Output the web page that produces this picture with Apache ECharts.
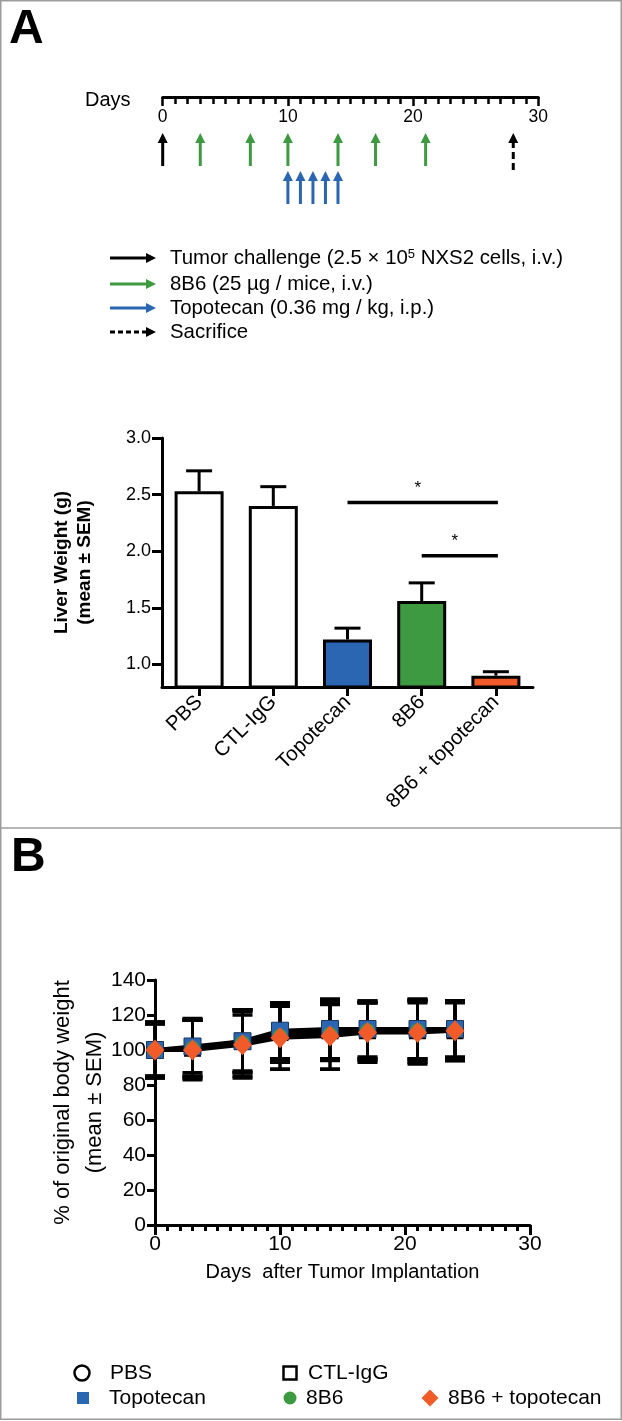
<!DOCTYPE html>
<html><head><meta charset="utf-8">
<script src="https://cdn.jsdelivr.net/npm/echarts@6/dist/echarts.min.js"></script>
<style>html,body{margin:0;padding:0;background:#fff}#c{width:622px;height:1421px}</style>
</head><body><div id="c"></div>
<script>
// ---------- Panel A: treatment timeline ----------
const tumorDays = [0];
const antibodyDays = [3, 7, 10, 14, 17, 21];
const topotecanDays = [10, 11, 12, 13, 14];
const sacrificeDays = [28];
const timelineLegend = ['Tumor challenge (2.5 \u00d7 10{sup|5} NXS2 cells, i.v.)', '8B6 (25 \u00b5g / mice, i.v.)', 'Topotecan (0.36 mg / kg, i.p.)', 'Sacrifice'];

// ---------- Panel A: liver weight ----------
const groups = ['PBS', 'CTL-IgG', 'Topotecan', '8B6', '8B6 + topotecan'];
const liverMean = [2.53, 2.40, 1.22, 1.56, 0.90];
const liverSem = [0.18, 0.17, 0.10, 0.16, 0.035];
const liverTicks = [1.0, 1.5, 2.0, 2.5, 3.0];
const sigFrom = ['Topotecan', '8B6'];
const sigTo = ['8B6 + topotecan', '8B6 + topotecan'];
const sigLevel = [2.43, 1.96];
const sigMark = ['*', '*'];

// ---------- Panel B: body weight ----------
const weightDays = [0, 3, 7, 10, 14, 17, 21, 24];
const pbsMean = [100, 101, 104, 109, 110, 111, 111, 111];
const pbsSem = [16, 17, 16, 16, 16, 16, 17, 17];
const ctlMean = [100, 101, 105, 110, 111, 111, 111, 111];
const ctlSem = [15, 16, 18, 16, 16, 16, 16, 16];
const topoMean = [100, 102, 105, 111, 112, 112, 112, 112];
const topoSem = [15, 15, 18, 16, 17, 16, 17, 16];
const ab8b6Mean = [100, 101, 104, 108, 109, 111, 111, 111];
const ab8b6Sem = [16, 16, 19, 19, 20, 17, 18, 17];
const comboMean = [100, 100, 103, 107, 108, 110, 110, 111];
const comboSem = [15, 17, 19, 18, 19, 17, 18, 17];

// ---------- styles ----------
const FONT = "'Liberation Sans', Arial, Helvetica, sans-serif";
const BLUE = '#2a66b1', GREEN = '#3e9a41', ORANGE = '#f15a29';
const ARROW_COLORS = ['#000000', GREEN, BLUE, '#000000'];
const BAR_COLORS = ['#ffffff', '#ffffff', BLUE, GREEN, ORANGE];

const chart = echarts.init(document.getElementById('c'), null, {renderer: 'canvas', width: 622, height: 1421});

function axisBase(extra) {
  return Object.assign({
    axisLine: {show: true, onZero: false, lineStyle: {color: '#000', width: 3}},
    splitLine: {show: false},
    nameMoveOverlap: false,
    axisLabel: {color: '#000', fontFamily: FONT}
  }, extra);
}

const timelineData = [].concat(
  tumorDays.map(d => [d, 0]), antibodyDays.map(d => [d, 1]),
  topotecanDays.map(d => [d, 2]), sacrificeDays.map(d => [d, 3]));

const weightSeriesDefs = [
  {name: 'PBS', mean: pbsMean, sem: pbsSem, symbol: 'circle', size: 15, item: {color: '#fff', borderColor: '#000', borderWidth: 2}},
  {name: 'CTL-IgG', mean: ctlMean, sem: ctlSem, symbol: 'rect', size: 15, item: {color: '#fff', borderColor: '#000', borderWidth: 2}},
  {name: 'Topotecan', mean: topoMean, sem: topoSem, symbol: 'rect', size: 17, item: {color: BLUE, borderColor: '#1b355e', borderWidth: 1}},
  {name: '8B6', mean: ab8b6Mean, sem: ab8b6Sem, symbol: 'circle', size: 15, item: {color: GREEN}},
  {name: '8B6 + topotecan', mean: comboMean, sem: comboSem, symbol: 'diamond', size: [19, 21], item: {color: ORANGE}}
];

const errData = [];
weightSeriesDefs.forEach(s => weightDays.forEach((d, i) => errData.push([d, s.mean[i], s.sem[i]])));

const series = [];
// timeline arrows
series.push({
  type: 'custom', xAxisIndex: 0, yAxisIndex: 0, silent: true,
  data: timelineData, encode: {x: 0, y: 1},
  renderItem: (params, api) => {
    const k = api.value(1);
    const x = api.coord([api.value(0), 0])[0];
    const top = params.coordSys.y;
    const tip = top + (k === 2 ? 74 : 36);
    const tail = top + (k === 2 ? 107 : (k === 3 ? 73 : 69));
    const col = ARROW_COLORS[k];
    return {type: 'group', children: [
      {type: 'line', shape: {x1: x, y1: tip + 8, x2: x, y2: tail},
       style: {stroke: col, lineWidth: 3, lineDash: k === 3 ? [7, 4] : null}},
      {type: 'polygon', shape: {points: [[x, tip], [x - 5, tip + 10], [x + 5, tip + 10]]}, style: {fill: col}}
    ]};
  }
});
// bars
series.push({
  type: 'bar', xAxisIndex: 1, yAxisIndex: 1, barWidth: 49, z: 3,
  data: liverMean.map((v, i) => ({value: v, itemStyle: {color: BAR_COLORS[i]}})),
  itemStyle: {borderColor: '#000', borderWidth: 3}
});
// bar error bars
series.push({
  type: 'custom', xAxisIndex: 1, yAxisIndex: 1, z: 2, silent: true,
  data: groups.map((g, i) => [i, liverMean[i], liverSem[i]]), encode: {x: 0, y: 1},
  renderItem: (params, api) => {
    const p0 = api.coord([api.value(0), api.value(1)]);
    const p1 = api.coord([api.value(0), api.value(1) + api.value(2)]);
    const hw = 13;
    return {type: 'group', children: [
      {type: 'line', shape: {x1: p0[0], y1: p0[1], x2: p1[0], y2: p1[1]}, style: {stroke: '#000', lineWidth: 3}},
      {type: 'line', shape: {x1: p1[0] - hw, y1: p1[1], x2: p1[0] + hw, y2: p1[1]}, style: {stroke: '#000', lineWidth: 3}}
    ]};
  }
});
// significance
series.push({
  type: 'custom', xAxisIndex: 1, yAxisIndex: 1, z: 4, silent: true,
  data: sigFrom.map((f, i) => [groups.indexOf(f), groups.indexOf(sigTo[i]), sigLevel[i], i]),
  encode: {x: [0, 1], y: 2},
  renderItem: (params, api) => {
    const a = api.coord([api.value(0), api.value(2)]);
    const b = api.coord([api.value(1), api.value(2)]);
    const mark = sigMark[api.value(3)];
    return {type: 'group', children: [
      {type: 'line', shape: {x1: a[0], y1: a[1], x2: b[0] + 2, y2: b[1]}, style: {stroke: '#000', lineWidth: 3.5}},
      {type: 'text', x: (a[0] + b[0]) / 2 - 4, y: a[1] - 14,
       style: {text: mark, fontSize: 17, fontFamily: FONT, fill: '#000', align: 'center', verticalAlign: 'middle'}}
    ]};
  }
});
// panel B error bars
series.push({
  type: 'custom', xAxisIndex: 2, yAxisIndex: 2, z: 1, silent: true,
  data: errData, encode: {x: 0, y: 1},
  renderItem: (params, api) => {
    const d = api.value(0), m = api.value(1), e = api.value(2);
    const lo = api.coord([d, m - e]), hi = api.coord([d, m + e]);
    const hw = 10;
    return {type: 'group', children: [
      {type: 'line', shape: {x1: lo[0], y1: lo[1], x2: hi[0], y2: hi[1]}, style: {stroke: '#000', lineWidth: 3}},
      {type: 'line', shape: {x1: hi[0] - hw, y1: hi[1], x2: hi[0] + hw, y2: hi[1]}, style: {stroke: '#000', lineWidth: 3.5}},
      {type: 'line', shape: {x1: lo[0] - hw, y1: lo[1], x2: lo[0] + hw, y2: lo[1]}, style: {stroke: '#000', lineWidth: 3.5}}
    ]};
  }
});
weightSeriesDefs.forEach(s => {
  series.push({
    type: 'line', name: s.name, xAxisIndex: 2, yAxisIndex: 2, z: 2, symbol: 'none',
    data: weightDays.map((d, i) => [d, s.mean[i]]),
    lineStyle: {color: '#000', width: 4}
  });
});
weightSeriesDefs.forEach(s => {
  series.push({
    type: 'scatter', name: s.name, xAxisIndex: 2, yAxisIndex: 2, z: 3,
    symbol: s.symbol, symbolSize: s.size,
    data: weightDays.map((d, i) => [d, s.mean[i]]),
    itemStyle: Object.assign({opacity: 1}, s.item)
  });
});

// graphic elements (frame, panel letters, legends)
const g = [];
g.push({type: 'rect', shape: {x: 0.75, y: 0.75, width: 620.5, height: 1418.5}, style: {fill: 'none', stroke: '#9c9c9c', lineWidth: 1.5}});
g.push({type: 'line', shape: {x1: 0, y1: 828, x2: 622, y2: 828}, style: {stroke: '#9c9c9c', lineWidth: 1.5}});
g.push({type: 'text', x: 9, y: 30, style: {text: 'A', fontSize: 48, fontWeight: 'bold', fontFamily: FONT, fill: '#000', verticalAlign: 'middle'}});
g.push({type: 'text', x: 11, y: 858, style: {text: 'B', fontSize: 48, fontWeight: 'bold', fontFamily: FONT, fill: '#000', verticalAlign: 'middle'}});
g.push({type: 'text', x: 85, y: 100, style: {text: 'Days', fontSize: 20, fontFamily: FONT, fill: '#000', verticalAlign: 'middle'}});
const legY = [258, 284, 308, 332];
timelineLegend.forEach((t, k) => {
  const y = legY[k];
  g.push({type: 'line', shape: {x1: 110, y1: y, x2: 148, y2: y}, style: {stroke: ARROW_COLORS[k], lineWidth: 3, lineDash: k === 3 ? [5, 3] : null}});
  g.push({type: 'polygon', shape: {points: [[156, y], [146, y - 5], [146, y + 5]]}, style: {fill: ARROW_COLORS[k]}});
  g.push({type: 'text', x: 170, y: y, style: {text: t, fontSize: 20.4, fontFamily: FONT, fill: '#000', verticalAlign: 'middle',
    rich: {sup: {fontSize: 13, fontFamily: FONT, fill: '#000', verticalAlign: 'top', padding: [0, 0, 8, 0]}}}});
});
// panel B legend
const lg = [
  {name: groups[0], shape: 'circle', fill: '#fff', stroke: '#000', x: 82, y: 1373, tx: 110, r: 7.5},
  {name: groups[1], shape: 'rect', fill: '#fff', stroke: '#000', x: 290, y: 1373, tx: 308, r: 6.5},
  {name: groups[2], shape: 'rect', fill: BLUE, stroke: null, x: 83, y: 1398, tx: 109, r: 6},
  {name: groups[3], shape: 'circle', fill: GREEN, stroke: null, x: 290, y: 1398, tx: 306, r: 6.5},
  {name: groups[4], shape: 'diamond', fill: ORANGE, stroke: null, x: 430, y: 1398, tx: 448, r: 8.5}
];
lg.forEach(L => {
  const st = {fill: L.fill, stroke: L.stroke, lineWidth: L.stroke ? 2.5 : 0};
  if (L.shape === 'circle') g.push({type: 'circle', shape: {cx: L.x, cy: L.y, r: L.r}, style: st});
  else if (L.shape === 'rect') g.push({type: 'rect', shape: {x: L.x - L.r, y: L.y - L.r, width: 2 * L.r, height: 2 * L.r}, style: st});
  else g.push({type: 'polygon', shape: {points: [[L.x, L.y - L.r], [L.x + L.r, L.y], [L.x, L.y + L.r], [L.x - L.r, L.y]]}, style: st});
  g.push({type: 'text', x: L.tx, y: L.y, style: {text: L.name, fontSize: 21, fontFamily: FONT, fill: '#000', verticalAlign: 'middle'}});
});

const option = {
  animation: false,
  backgroundColor: '#fff',
  textStyle: {fontFamily: FONT},
  grid: [
    {left: 162.7, right: 83.7, top: 97, height: 115},
    {left: 162, right: 89, top: 438, height: 249},
    {left: 155, right: 92, top: 980, height: 245}
  ],
  xAxis: [
    axisBase({gridIndex: 0, type: 'value', position: 'top', min: 0, max: 30, interval: 10,
      axisTick: {show: true, inside: true, length: 9, lineStyle: {color: '#000', width: 2.5}},
      minorTick: {show: true, splitNumber: 10, length: 7, lineStyle: {color: '#000', width: 2.5}},
      minorSplitLine: {show: false},
      axisLabel: {inside: true, margin: 11, fontSize: 17.5, color: '#000', fontFamily: FONT}}),
    axisBase({gridIndex: 1, type: 'category', data: groups,
      axisTick: {show: true, alignWithLabel: true, length: 9, lineStyle: {color: '#000', width: 3}},
      axisLabel: {rotate: 45, margin: 12, fontSize: 20.5, color: '#000', fontFamily: FONT, interval: 0}}),
    axisBase({gridIndex: 2, type: 'value', min: 0, max: 30, interval: 10,
      axisTick: {show: true, length: 10, lineStyle: {color: '#000', width: 3}},
      minorTick: {show: true, splitNumber: 10, length: 6, lineStyle: {color: '#000', width: 3}},
      minorSplitLine: {show: false},
      axisLabel: {margin: 9, fontSize: 21, color: '#000', fontFamily: FONT},
      name: 'Days  after Tumor Implantation', nameLocation: 'middle', nameGap: 37,
      nameTextStyle: {fontSize: 20, color: '#000', fontFamily: FONT}})
  ],
  yAxis: [
    {gridIndex: 0, type: 'value', min: 0, max: 1, show: false},
    axisBase({gridIndex: 1, type: 'value', min: 0.8, max: 3.0,
      axisTick: {show: true, length: 10, lineStyle: {color: '#000', width: 3}, customValues: liverTicks},
      axisLabel: {margin: 11, fontSize: 18, color: '#000', fontFamily: FONT, customValues: liverTicks, formatter: v => v.toFixed(1)},
      name: 'Liver Weight (g)\n(mean \u00b1 SEM)', nameLocation: 'middle', nameGap: 66,
      nameTextStyle: {fontSize: 19, fontWeight: 'bold', lineHeight: 23, color: '#000', fontFamily: FONT}}),
    axisBase({gridIndex: 2, type: 'value', min: 0, max: 140, interval: 20,
      axisTick: {show: true, length: 8, lineStyle: {color: '#000', width: 3}},
      axisLabel: {margin: 9, fontSize: 21, color: '#000', fontFamily: FONT},
      name: '% of original body weight\n(mean \u00b1 SEM)', nameLocation: 'middle', nameGap: 44,
      nameTextStyle: {fontSize: 22, lineHeight: 32, color: '#000', fontFamily: FONT}})
  ],
  series: series,
  graphic: {elements: g}
};
chart.setOption(option);
</script>
</body></html>
